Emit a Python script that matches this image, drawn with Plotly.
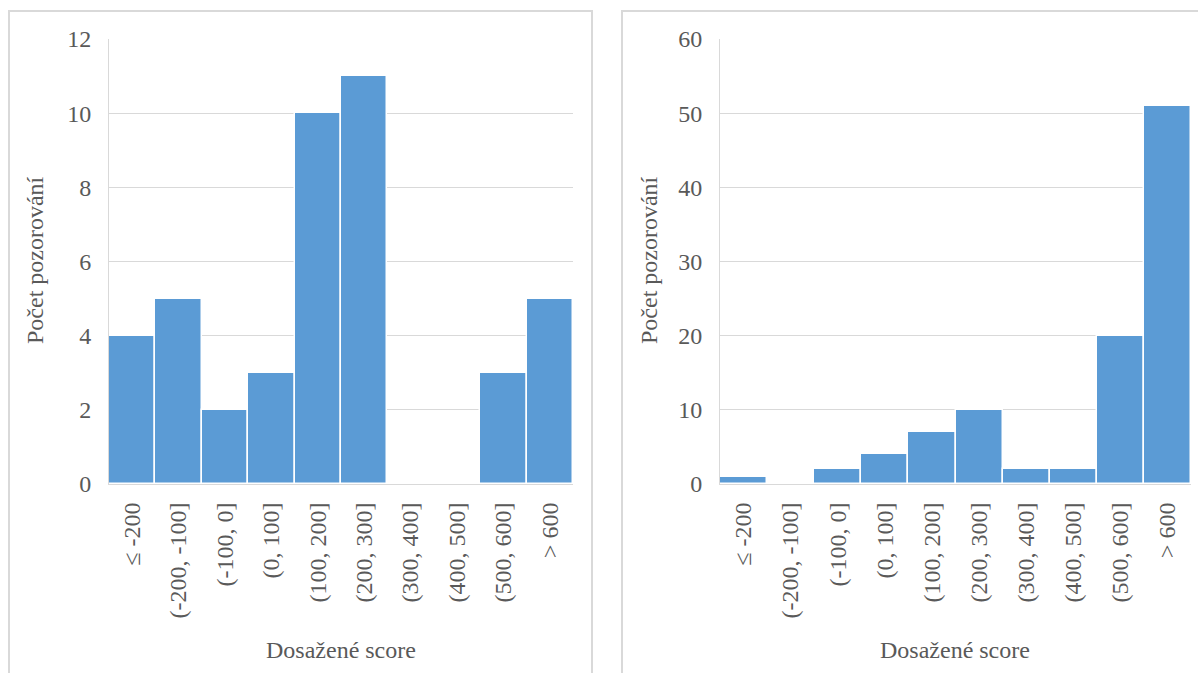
import plotly.graph_objects as go

# Score bins (shared by both histograms)
categories = ["≤ -200", "(-200, -100]", "(-100, 0]", "(0, 100]", "(100, 200]",
              "(200, 300]", "(300, 400]", "(400, 500]", "(500, 600]", "> 600"]
counts_left = [4, 5, 2, 3, 10, 11, 0, 0, 3, 5]
counts_right = [1, 0, 2, 4, 7, 10, 2, 2, 20, 51]

W, H = 1198, 673
BAR = "#5b9bd5"
GRID = "#d9d9d9"
TXT = "#595959"
FONT = "'Liberation Serif', 'Times New Roman', serif"

def px(x):
    return x / W

def py(y):
    return 1 - y / H

fig = go.Figure()
fig.add_trace(go.Bar(x=list(range(len(categories))), y=counts_left, marker_color=BAR,
                     marker_line_color="white", marker_line_width=1.5,
                     xaxis="x", yaxis="y", showlegend=False))
fig.add_trace(go.Bar(x=list(range(len(categories))), y=counts_right, marker_color=BAR,
                     marker_line_color="white", marker_line_width=1.5,
                     xaxis="x2", yaxis="y2", showlegend=False))

xcommon = dict(range=[-0.5, 9.5], tickmode="array", tickvals=list(range(len(categories))),
               ticktext=categories, tickangle=-90, showgrid=False, zeroline=False,
               showline=True, linecolor=GRID, linewidth=1, ticks="", automargin=False,
               tickfont=dict(family=FONT, size=24, color=TXT), ticklabelstandoff=8)
ycommon = dict(showgrid=True, gridcolor=GRID, gridwidth=1, zeroline=False,
               showline=True, linecolor=GRID, linewidth=1, ticks="", automargin=False,
               tickfont=dict(family=FONT, size=24, color=TXT), ticklabelstandoff=12)

fig.update_layout(
    template="none",
    width=W, height=H,
    margin=dict(l=0, r=0, t=0, b=0, pad=0),
    paper_bgcolor="white", plot_bgcolor="white",
    bargap=0,
    xaxis=dict(domain=[px(109), px(573)], anchor="y", **xcommon),
    yaxis=dict(domain=[py(484), py(39)], anchor="x", range=[0, 12], dtick=2, **ycommon),
    xaxis2=dict(domain=[px(720), px(1191)], anchor="y2", **xcommon),
    yaxis2=dict(domain=[py(484), py(39)], anchor="x2", range=[0, 60], dtick=10, **ycommon),
)

# Panel frames
fig.add_shape(type="rect", xref="paper", yref="paper", x0=px(9), x1=px(592),
              y0=py(700), y1=py(11), line=dict(color=GRID, width=2), layer="below")
fig.add_shape(type="rect", xref="paper", yref="paper", x0=px(622), x1=px(1220),
              y0=py(700), y1=py(11), line=dict(color=GRID, width=2), layer="below")

# Axis titles
for cx, label in [(341, "Dosažené score"), (955, "Dosažené score")]:
    fig.add_annotation(x=px(cx), y=py(650), xref="paper", yref="paper", text=label,
                       xanchor="center", yanchor="middle", showarrow=False,
                       font=dict(family=FONT, size=24, color=TXT))
for cx in (35, 649):
    fig.add_annotation(x=px(cx), y=py(260), xref="paper", yref="paper",
                       xanchor="center", yanchor="middle",
                       text="Počet pozorování", textangle=-90, showarrow=False,
                       font=dict(family=FONT, size=24, color=TXT))

fig.write_html("out.html")
